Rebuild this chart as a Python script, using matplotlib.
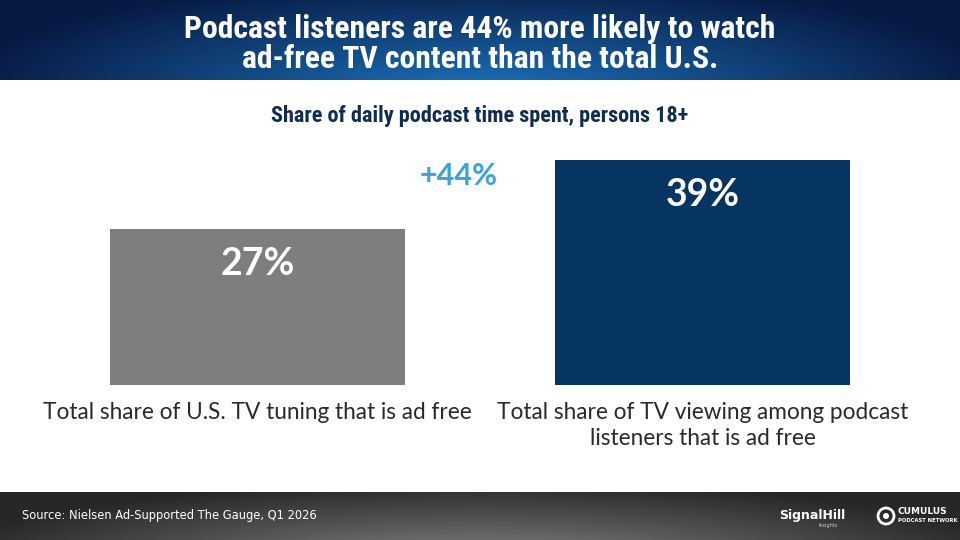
import numpy as np
import matplotlib
matplotlib.use('Agg')
import matplotlib.pyplot as plt
from matplotlib.patches import Circle
from matplotlib import font_manager

# chart data
categories = ['Total share of U.S. TV tuning that is ad free',
              'Total share of TV viewing among podcast\nlisteners that is ad free']
values = [27, 39]
bar_colors = ['#7f7e7f', '#073562']
lift_label = '+44%'

title = 'Podcast listeners are 44% more likely to watch\nad-free TV content than the total U.S.'
subtitle = 'Share of daily podcast time spent, persons 18+'
source = 'Source: Nielsen Ad-Supported The Gauge, Q1 2026'

# pick a narrow family if one is around
names = set(f.name for f in font_manager.fontManager.ttflist)
narrow = 'DejaVu Sans'
for n in ['Liberation Sans Narrow', 'Roboto Condensed', 'Open Sans Condensed', 'DejaVu Sans Condensed']:
    if n in names:
        narrow = n
        break

W, H = 960, 540
fig = plt.figure(figsize=(9.6, 5.4), dpi=100)
fig.patch.set_facecolor('white')

# background layer in pixel coordinates
bg = fig.add_axes([0, 0, 1, 1])
bg.axis('off')

# header gradient (dark navy edges, brighter blue centre bottom)
xx, yy = np.meshgrid(np.linspace(0, W, 480), np.linspace(0, 80, 40))
r = np.sqrt(((xx - 480) / 520) ** 2 + ((yy - 95) / 120) ** 2)
r = np.clip(r, 0, 1)
c_in = np.array([0x1c, 0x74, 0xbc]) / 255
c_out = np.array([0x08, 0x1a, 0x44]) / 255
img = c_in[None, None, :] * (1 - r[..., None]) + c_out[None, None, :] * r[..., None]
bg.imshow(img, extent=[0, W, 80, 0], aspect='auto', interpolation='bilinear')

# footer gradient (dark grey with lighter centre)
xx, yy = np.meshgrid(np.linspace(0, W, 480), np.linspace(492, H, 30))
r = np.sqrt(((xx - 480) / 560) ** 2 + ((yy - 570) / 90) ** 2)
r = np.clip(r, 0, 1)
c_in = np.array([0x8c, 0x8a, 0x8c]) / 255
c_out = np.array([0x26, 0x27, 0x29]) / 255
img2 = c_in[None, None, :] * (1 - r[..., None]) + c_out[None, None, :] * r[..., None]
bg.imshow(img2, extent=[0, W, H, 492], aspect='auto', interpolation='bilinear')
bg.set_xlim(0, W)
bg.set_ylim(H, 0)

# titles
t = bg.text(480, 44, title, ha='center', va='center', color='white',
            fontsize=23, fontweight='bold', family=narrow, linespacing=1.02)
s = bg.text(480, 116, subtitle, ha='center', va='center', color='#0f2c52',
            fontsize=16, fontweight='bold', family=narrow)

# squeeze the titles to the reference widths if the font is too wide
fig.canvas.draw()
r_ = fig.canvas.get_renderer()
tw = t.get_window_extent(r_).width
t.set_fontsize(t.get_fontsize() * 594 / tw)
sw = s.get_window_extent(r_).width
s.set_fontsize(s.get_fontsize() * 418 / sw)

# footer text and logos
bg.text(22, 516, source, ha='left', va='center', color='white',
        fontsize=8.3, family='DejaVu Sans')
bg.text(812, 516, 'SignalHill', ha='center', va='center', color='white',
        fontsize=9, fontweight='bold', family='DejaVu Sans')
bg.text(828, 526, 'Insights', ha='center', va='center', color='#cccccc',
        fontsize=3.5, family='DejaVu Sans')
bg.add_patch(Circle((886, 516), 8, facecolor='none', edgecolor='white', lw=2))
bg.add_patch(Circle((886, 516), 3, facecolor='white', edgecolor='none'))
bg.text(898, 512, 'CUMULUS', ha='left', va='center', color='white',
        fontsize=6.5, fontweight='bold', family='DejaVu Sans')
bg.text(898, 521, 'PODCAST NETWORK', ha='left', va='center', color='white',
        fontsize=3.8, fontweight='bold', family='DejaVu Sans')

# bar chart axes: x 35..925 px, baseline at y=385 px, 0..45 over 259 px
ax = fig.add_axes([35 / W, (H - 385) / H, 890 / W, 259.2 / H])
ax.set_facecolor('none')
x = np.arange(len(values))
ax.bar(x, values, width=0.663, color=bar_colors)
ax.set_xlim(-0.5, 1.5)
ax.set_ylim(0, 45)
ax.axis('off')

for i, v in enumerate(values):
    ax.annotate(f'{v}%', (i, v), xytext=(0, -25), textcoords='offset points',
                ha='center', va='center', color='white', fontsize=27,
                fontweight='bold', family='Lato')
    ax.annotate(categories[i], (i, 0), xytext=(0, -12.5), textcoords='offset points',
                ha='center', va='top', color='#2a2a2a', fontsize=16.3,
                family='Lato', linespacing=1.3, annotation_clip=False)

bg.text(459, 176, lift_label, ha='center', va='center', color='#3ba3d9',
        fontsize=22, fontweight='bold', family='Lato')

fig.savefig('out.png', dpi=100)
